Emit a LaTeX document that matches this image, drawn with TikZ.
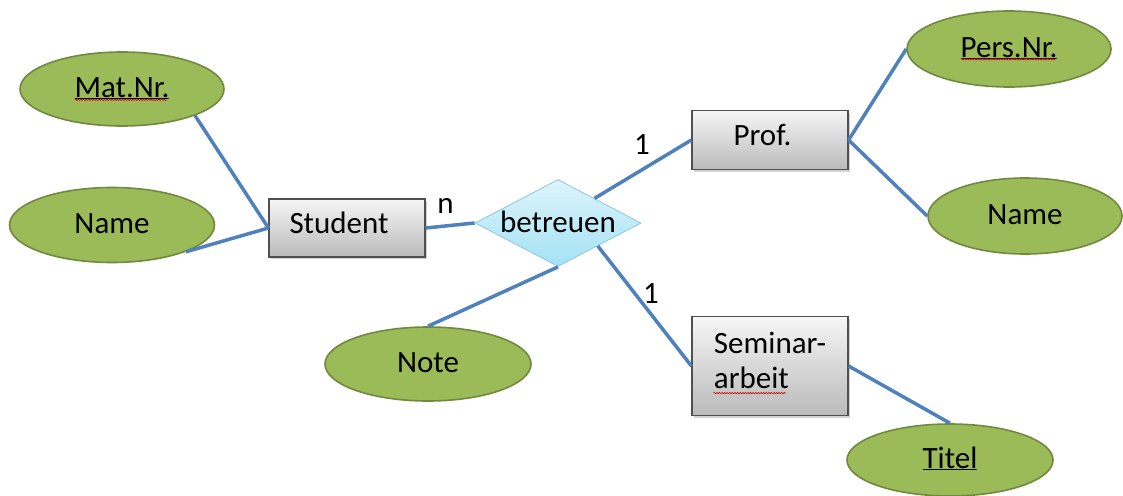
\documentclass[tikz,border=0pt]{standalone}
\usepackage{fontspec}
\setmainfont{Carlito}
\usetikzlibrary{shapes.geometric,shadows,decorations.pathmorphing}

\definecolor{attrfill}{HTML}{9BBB59}
\definecolor{attrline}{HTML}{71893F}
\definecolor{linkblue}{HTML}{4F81BD}
\definecolor{relTop}{HTML}{DDF4FC}
\definecolor{relBot}{HTML}{A4E2F5}
\definecolor{relLine}{HTML}{8CC8DC}
\definecolor{entTop}{HTML}{F6F6F6}
\definecolor{entBot}{HTML}{BABABA}
\definecolor{entLine}{HTML}{505050}

\tikzset{
  base font/.style={font=\fontsize{31}{35}\selectfont},
  entity/.style={base font, draw=entLine, line width=1.2pt,
    top color=entTop, bottom color=entBot, rectangle,
    minimum width=156pt, minimum height=58pt, inner sep=0pt,
    text height=22pt, text depth=12pt,
    drop shadow={opacity=0.35, shadow xshift=2pt, shadow yshift=-2pt}},
  attribute/.style={base font, ellipse, draw=attrline, line width=1.6pt,
    fill=attrfill, inner sep=0pt, text height=22pt, text depth=6pt},
  relation/.style={base font, diamond, draw=relLine, line width=0.8pt,
    top color=relTop, bottom color=relBot, inner sep=0pt, aspect=1.9,
    text height=22pt, text depth=4pt,
    minimum width=166pt, minimum height=87pt},
  link/.style={draw=linkblue, line width=3.5pt},
  card/.style={base font, anchor=base, inner sep=0pt},
  spell/.style={draw=red!85!black, line width=0.6pt,
    decorate, decoration={snake, amplitude=0.7pt, segment length=2.6pt}}
}

\begin{document}
\begin{tikzpicture}[x=1pt, y=-1pt]
  \useasboundingbox[fill=white] (0,0) rectangle (1123,495);

  % entities
  \node[entity] (student) at (347,228) {Student\hspace*{16pt}};
  \node[entity, minimum height=59pt] (prof) at (770,140) {Prof.\hspace*{15pt}};
  \node[entity, minimum height=99pt, align=left, text height=, text depth=12pt]
    (sem) at (770,366) {Seminar-\\arbeit};

  % relationship
  \node[relation] (bet) at (558,223) {betreuen};

  % attributes
  \node[attribute, minimum width=204pt, minimum height=74pt] (matnr) at (122,89) {\underline{Mat.Nr.}};
  \node[attribute, minimum width=205pt, minimum height=75pt] (sname) at (112,225) {Name};
  \node[attribute, minimum width=204pt, minimum height=76pt] (persnr) at (1009,49) {\underline{Pers.Nr.}};
  \node[attribute, minimum width=194pt, minimum height=76pt] (pname) at (1025,216) {Name};
  \node[attribute, minimum width=206pt, minimum height=74pt] (note) at (428,364) {Note};
  \node[attribute, minimum width=206pt, minimum height=72pt] (titel) at (950,460) {\underline{Titel}};

  % spell-check marks under the words
  \draw[spell] ([shift={(-47pt,27pt)}]matnr.south) -- ++(92pt,0pt);
  \draw[spell] ([shift={(-48pt,28.5pt)}]persnr.south) -- ++(94pt,0pt);
  \draw[spell] ([shift={(22pt,23pt)}]sem.south west) -- ++(73pt,0pt);

  % connectors
  \draw[link] (matnr.-20) -- (student.west);
  \draw[link] (sname.-20) -- (student.west);
  \draw[link] (student.east) -- (bet.west);
  \draw[link] (bet.34) -- (prof.west);
  \draw[link] (bet.-30) -- (sem.west);
  \draw[link] (bet.south) -- (note.north);
  \draw[link] (prof.east) -- (persnr.west);
  \draw[link] (prof.east) -- (pname.west);
  \draw[link] (sem.east) -- (titel.north);

  % cardinalities
  \node[card] (cn) at (445.5,213) {n};
  \node[card] (c1) at (642,154) {1};
  \node[card] (c2) at (651,303) {1};
\end{tikzpicture}
\end{document}
